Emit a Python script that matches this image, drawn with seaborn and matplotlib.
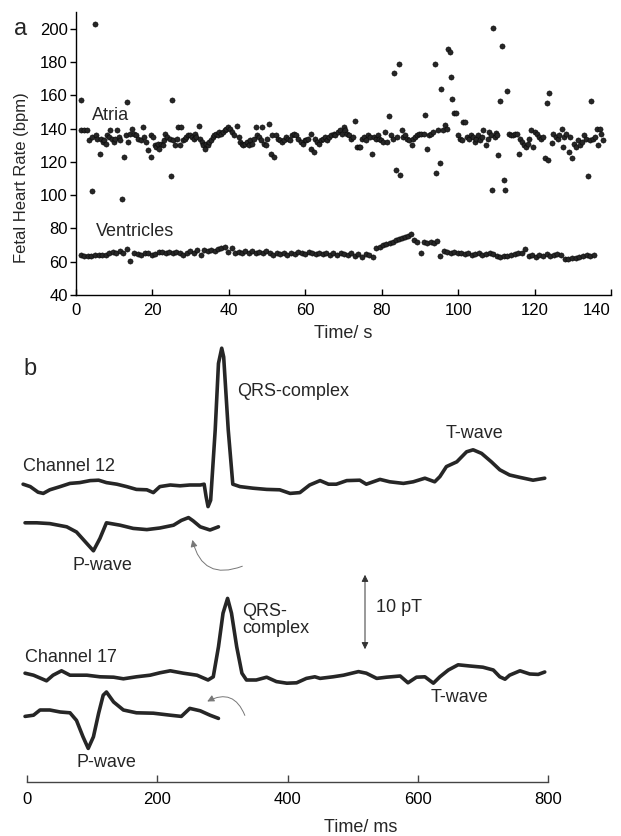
import numpy as np
import pandas as pd
import matplotlib
matplotlib.use("Agg")
import matplotlib.pyplot as plt
import seaborn as sns
from matplotlib.patches import FancyArrowPatch

# ---------------- DATA: panel a (fetal heart rate, beat by beat) ----------------
atria_t = [1.2, 1.3, 2.0, 2.8, 3.4, 4.2, 4.3, 5.0, 5.2, 5.6,
           6.2, 6.6, 7.0, 7.4, 7.8, 8.2, 8.6, 9.0, 9.4, 9.9, 10.3, 10.8, 11.2, 11.6,
           12.0, 12.6, 13.0, 13.3, 13.6, 14.2, 14.7,
           15.3, 15.8, 16.3, 16.9, 17.5, 17.9, 18.4, 18.9, 19.5, 19.7, 20.1,
           20.6, 21.0, 21.4, 21.8, 22.3, 22.7, 23.1, 23.4, 23.9, 24.5, 24.8, 25.0,
           25.5, 26.0, 26.4, 26.8, 27.2, 27.6, 28.0, 28.4, 28.9, 29.3, 29.8, 30.3, 30.8,
           31.2, 31.5, 32.2, 32.5, 32.9, 33.3, 33.7, 34.1, 34.5, 34.9, 35.3,
           35.8, 36.2, 36.7, 37.1, 37.5, 38.0, 38.4, 38.9, 39.3, 39.8, 40.3,
           40.8, 41.4, 42.2, 42.6, 43.0, 43.4, 43.8, 44.3, 44.7, 45.2, 45.6,
           46.1, 46.6, 47.0, 47.4, 47.8, 48.3, 48.8, 49.2, 49.7, 50.1, 50.5, 51.0, 51.4, 51.8,
           52.3, 52.8, 53.4, 53.9, 54.4, 54.9,
           55.4, 55.9, 56.5, 57.0, 57.6, 58.2, 58.8, 59.4, 59.9,
           60.3, 60.8, 61.4, 61.6, 62.3, 62.6, 63.0, 63.5, 64.0, 64.6,
           65.2, 65.7, 66.3, 66.8, 67.4, 67.9, 68.5, 69.1, 69.6, 70.0,
           70.4, 70.9, 71.4, 72.0, 72.5, 73.0, 73.5, 74.0, 74.4, 74.9,
           75.4, 75.9, 76.4, 76.9, 77.4, 77.9, 78.4, 78.9, 79.3, 79.8,
           80.3, 80.8, 81.3, 82.0, 82.5, 83.0, 83.2, 83.7, 84.1, 84.5, 84.9,
           85.3, 85.7, 86.2, 86.7, 87.2, 87.8, 88.3, 88.8, 89.3,
           89.8, 90.3, 91.0, 91.4, 91.8, 92.3, 92.8, 93.3, 94.0, 94.3, 94.6, 95.3, 95.6,
           96.1, 96.5, 97.0, 97.4, 97.8, 98.2, 98.5, 99.0, 99.4,
           100.0, 100.5, 101.0, 101.3, 101.8, 102.3, 102.8, 103.3, 103.8, 104.3, 104.8,
           105.3, 105.8, 106.2, 106.6, 107.3, 107.7, 108.0, 108.5, 108.9, 109.2, 109.6, 110.0, 110.2,
           110.5, 111.0, 111.5, 112.0, 112.3, 112.8, 113.3, 113.8, 114.3, 114.8,
           115.3, 115.8, 116.3, 116.8, 117.3, 117.8, 118.3, 118.6, 119.0, 119.7,
           120.2, 120.7, 121.2, 121.7, 122.2, 122.8, 123.3, 123.6, 123.8, 124.5, 124.9,
           125.5, 126.0, 126.5, 127.1, 127.4, 127.8, 128.3, 128.9, 129.3, 129.8,
           130.3, 130.8, 131.3, 131.8, 132.3, 132.9, 133.5, 134.1, 134.6, 134.8,
           135.2, 135.8, 136.4, 136.6, 137.0, 137.5, 137.8]

atria_bpm = [139, 157, 139, 139, 133, 102.6, 135, 203, 136, 134,
             125, 134, 132, 133, 131, 136, 135, 139, 134, 132, 134, 139, 135, 133,
             97.7, 123, 136, 156, 132, 137, 140,
             137, 136, 134, 133, 141, 135, 132, 127, 136, 123, 135,
             130, 129, 131, 128, 131, 130, 133, 137, 135, 134, 111.6, 157,
             133, 130, 134, 141, 130, 141, 133, 134, 135, 136, 136, 135, 134,
             137, 135, 141.6, 134, 132, 130, 128, 131, 130, 132, 133,
             135, 136, 137, 136, 138, 137, 138, 139, 140, 141, 140,
             138, 136, 141.6, 135, 132, 131, 130, 131, 132, 130, 133,
             131, 134, 141, 136, 135, 133, 141, 131, 130, 134, 142.5, 125, 136, 123,
             136, 134, 133, 132, 133, 135,
             134, 133, 136, 137, 136, 134, 132, 131, 133,
             133, 134, 137, 128, 126, 134, 132, 131, 133, 134,
             135, 133, 135, 136, 137, 136, 138, 139, 137, 141,
             139, 137, 136, 134, 135, 144.6, 129, 129, 129, 134,
             135, 133, 136, 135, 124.6, 135, 134, 136, 134, 133,
             132, 138, 132, 147.6, 136, 134, 173.6, 115, 135, 179, 112,
             139, 135, 136, 134, 133, 130, 134, 135, 136,
             137, 137, 137, 148, 127.6, 136, 137, 138, 179, 113, 139, 119, 164,
             139, 142, 140, 188, 186, 171, 158, 149.5, 149.5,
             136, 134, 133, 144, 144, 135, 134, 136, 135, 132, 134,
             136, 133, 135, 139, 130, 134, 138, 136, 103, 200.6, 135, 137.4, 136,
             124, 156.7, 189.8, 109, 103, 162.7, 137, 136, 136, 137,
             137, 125, 134, 132, 130, 129, 131, 134, 139, 129,
             138, 137, 135, 134, 135, 122.4, 155.6, 121, 161.5, 131.6, 137,
             135, 134, 136, 140, 129, 135, 137, 126, 135, 122,
             131, 129, 133, 130, 132, 136, 134, 111.5, 133, 156.7,
             134, 135, 140, 130, 140, 137, 133]

vent_start = 1.2
vent_bpm = [64, 63.5, 63.5, 63.7, 63.8, 64, 64, 64.3,
            65, 66, 65.5, 66.5, 65, 67.5,
            60.5,
            65, 64.5, 64, 65.5, 65, 64, 64.5,
            66, 66, 65.5, 66, 65.5, 66, 65,
            64, 65, 66.5, 65, 67, 64,
            67, 66.5, 67, 66.5, 67.5, 68, 69,
            66, 68.5,
            65, 66, 65.5, 66.5, 65, 66.5, 65.5, 66, 65.5, 66.5, 65.5,
            64, 65, 64.5, 65.5, 64, 65, 64.5, 66, 65,
            64.5, 66, 65, 64.5, 65.5, 64.5,
            65.5, 64, 65, 64, 65, 64.5,
            64, 65, 63.5, 64.5, 63, 64.5, 64, 63,
            68, 69, 70, 70.5, 71.5, 72, 73, 73.5, 74.5, 75, 75.5, 76.5,
            73, 72,
            65,
            72, 71.5, 72, 71.5, 72.5,
            63.7,
            66.5, 66, 65.5, 66, 65, 65.5, 64.5, 65,
            64, 64.5, 65, 64, 64.5, 65, 64.5,
            63.5, 63, 63.5, 63.5, 64, 64.5, 65, 65.5, 67.5,
            63.5, 64, 63, 64, 63.5, 64.5, 63.5, 64, 64.5, 64,
            61.5, 61.8, 62,
            62.5, 63, 63.5, 64, 63.5, 64]

# beat times from the RR intervals (60 / rate)
rr = 60.0 / np.array(vent_bpm)
vent_t = vent_start + np.concatenate([[0.0], np.cumsum(rr[:-1])])

# ---------------- DATA: panel b (magnetocardiogram traces, pT) ----------------
ch12_ms = [-6, 5, 17, 25, 35, 51, 66, 81, 97, 110, 122, 138, 153, 168, 184, 194, 204,
           220, 235, 250, 266, 272, 275, 278, 282, 289, 294, 299, 302, 309, 316, 327,
           347, 368, 388, 404, 419, 434, 450, 463, 475, 491, 511, 521, 542, 557, 578,
           593, 611, 626, 634, 644, 660, 675, 685, 698, 713, 726, 741, 757, 777, 795]
ch12_pT = [0.1, -0.2, -0.9, -1.05, -0.6, -0.2, 0.2, 0.3, 0.55, 0.6, 0.3, 0.1, -0.2, -0.55,
           -0.6, -0.95, -0.2, 0.0, -0.1, 0.0, 0.0, 0.1, -1.45, -2.7, -1.9, 6.9, 15.2, 17.1,
           16.0, 6.9, 0.1, -0.2, -0.4, -0.55, -0.6, -1.05, -0.95, 0.0, 0.55, 0.1, 0.1, 0.55,
           0.6, 0.1, 0.7, 0.4, 0.2, 0.4, 0.85, 0.4, 1.05, 2.3, 2.9, 4.15, 4.4, 3.95, 2.9,
           1.9, 1.25, 0.95, 0.6, 0.85]

ch12p_ms = [-3, 15, 35, 61, 76, 92, 102, 112, 122, 143, 163, 184, 204, 225, 237, 248,
            255, 266, 281, 294]
ch12p_pT = [0.3, 0.3, 0.2, -0.2, -0.85, -2.3, -3.2, -1.65, 0.3, 0.0, -0.4, -0.55, -0.35,
            0.0, 0.6, 0.95, 0.55, -0.2, -0.6, -0.2]

ch17_ms = [-3, 10, 30, 40, 53, 66, 92, 112, 133, 148, 168, 189, 204, 220, 240, 261, 278,
           286, 294, 301, 308, 314, 322, 330, 337, 352, 368, 383, 399, 414, 429, 442,
           450, 470, 486, 509, 521, 537, 552, 573, 585, 598, 611, 624, 634, 647, 662,
           680, 700, 716, 726, 734, 741, 757, 772, 785, 795]
ch17_pT = [0.35, 0.1, -0.6, 0.1, 0.65, 0.1, 0.1, -0.1, -0.15, -0.35, -0.1, 0.1, 0.4,
           0.65, 0.35, 0.1, -0.5, -0.1, 3.65, 7.85, 9.7, 7.85, 3.65, 0.35, -0.5, -0.5,
           -0.15, -0.7, -0.9, -0.85, -0.3, -0.1, -0.3, -0.1, 0.1, 0.55, 0.35, -0.3, -0.15,
           0.0, -0.85, -0.15, -0.1, -0.9, -0.1, 0.75, 1.4, 1.25, 1.1, 0.75, -0.1, -0.4,
           0.1, 0.65, 0.25, 0.2, 0.5]

ch17p_ms = [-3, 10, 20, 35, 51, 66, 76, 86, 94, 102, 110, 117, 122, 133, 148, 168, 194,
            220, 237, 250, 266, 281, 294]
ch17p_pT = [-0.4, -0.25, 0.4, 0.4, 0.15, 0.05, -0.9, -2.95, -4.4, -2.95, 0.0, 2.25, 2.65,
            1.4, 0.4, 0.05, 0.0, -0.25, -0.4, 0.6, 0.3, -0.25, -0.65]

a_xticks = [0, 20, 40, 60, 80, 100, 120, 140]
a_yticks = [40, 60, 80, 100, 120, 140, 160, 180, 200]
b_xticks = [0, 200, 400, 600, 800]

# ---------------- FIGURE ----------------
sns.set_theme(style="ticks")
plt.rcParams["font.family"] = ["Liberation Sans", "DejaVu Sans"]
FS = 12      # tick labels
FL = 13      # annotation labels

fig = plt.figure(figsize=(6.21, 8.36), dpi=100)
W, H = 621.0, 836.0
axa = fig.add_axes([76 / W, 1 - 295 / H, 535 / W, 283 / H])
axb = fig.add_axes([27 / W, 1 - 782 / H, 521 / W, 442 / H])

# ---- panel a ----
df_a = pd.DataFrame({"t": atria_t, "bpm": atria_bpm})
df_v = pd.DataFrame({"t": vent_t, "bpm": vent_bpm})
for df in (df_a, df_v):
    sns.scatterplot(data=df, x="t", y="bpm", ax=axa, s=14, color="#262626",
                    edgecolor="black", linewidth=0.35, legend=False, zorder=3)
axa.set_xlim(0, 140)
axa.set_ylim(40, 210)
axa.set_xticks(a_xticks)
axa.set_yticks(a_yticks)
axa.set_xlabel("")
axa.set_ylabel("")
for s in ("top", "right"):
    axa.spines[s].set_visible(False)
for s in ("left", "bottom"):
    axa.spines[s].set_linewidth(1.0)
    axa.spines[s].set_color("black")
axa.tick_params(axis="x", direction="in", length=4, width=1, pad=6, labelsize=FS,
                colors="black")
axa.tick_params(axis="y", direction="out", length=4, width=1, pad=2, labelsize=FS,
                colors="black")
fig.canvas.draw()
axa.get_xticklabels()[-1].set_horizontalalignment("right")
axa.text(4.2, 147.7, "Atria", fontsize=FL, ha="left", va="center")
axa.text(5.2, 77.9, "Ventricles", fontsize=FL, ha="left", va="center")

fig.text(22 / W, 1 - 178 / H, "Fetal Heart Rate (bpm)", rotation=90, ha="center",
         va="center", fontsize=FS)
fig.text(343 / W, 1 - 334 / H, "Time/ s", ha="center", va="center", fontsize=FL)
fig.text(14 / W, 1 - 35 / H, "a", ha="left", va="baseline", fontsize=17)

# ---- panel b ----
off12, off12p, off17, off17p = 37.125, 32.1, 13.25, 8.6
traces = [(ch12_ms, ch12_pT, off12), (ch12p_ms, ch12p_pT, off12p),
          (ch17_ms, ch17_pT, off17), (ch17p_ms, ch17p_pT, off17p)]
for ms, pt, off in traces:
    sns.lineplot(x=ms, y=np.array(pt) + off, ax=axb, sort=False, estimator=None,
                 color="#262626", lw=2.6, solid_joinstyle="round")
for ln in axb.lines:
    ln.set_clip_on(False)

axb.set_xlim(0, 800)
axb.set_ylim(0, 55.25)
axb.set_xticks(b_xticks)
axb.set_yticks([])
axb.set_xlabel("")
axb.set_ylabel("")
for s in ("top", "right", "left"):
    axb.spines[s].set_visible(False)
axb.spines["bottom"].set_color("#444444")
axb.spines["bottom"].set_linewidth(1.0)
axb.tick_params(axis="x", direction="in", length=5, width=1, pad=7, labelsize=FS,
                colors="#444444", labelcolor="black")

axb.text(322, 48.75, "QRS-complex", fontsize=FL, ha="left", va="center")
axb.text(643, 43.5, "T-wave", fontsize=FL, ha="left", va="center")
axb.text(-6, 39.4, "Channel 12", fontsize=FL, ha="left", va="center")
axb.text(70.6, 27.0, "P-wave", fontsize=FL, ha="left", va="center")
axb.text(535.7, 21.75, "10 pT", fontsize=FL, ha="left", va="center")
axb.text(330, 20.25, "QRS-\ncomplex", fontsize=FL, ha="left", va="center",
         linespacing=1.0)
axb.text(-3, 15.6, "Channel 17", fontsize=FL, ha="left", va="center")
axb.text(620, 10.5, "T-wave", fontsize=FL, ha="left", va="center")
axb.text(76.7, 2.4, "P-wave", fontsize=FL, ha="left", va="center")

arr1 = FancyArrowPatch((334.6, 27.1), (253, 30.6), connectionstyle="arc3,rad=-0.6",
                       arrowstyle="-|>,head_length=4,head_width=2", color="#777777",
                       lw=0.7, transform=axb.transData, clip_on=False)
arr2 = FancyArrowPatch((336, 8.0), (273, 9.9), connectionstyle="arc3,rad=0.6",
                       arrowstyle="-|>,head_length=4,head_width=2", color="#777777",
                       lw=0.7, transform=axb.transData, clip_on=False)
arr3 = FancyArrowPatch((519, 16.25), (519, 26.25), arrowstyle="<|-|>,head_length=4,head_width=2",
                       color="#333333", lw=0.7, transform=axb.transData, clip_on=False)
for a in (arr1, arr2, arr3):
    axb.add_patch(a)

fig.text(361 / W, 1 - 827 / H, "Time/ ms", ha="center", va="center", fontsize=FL)
fig.text(23 / W, 1 - 375 / H, "b", ha="left", va="baseline", fontsize=17)

fig.savefig("out.png", dpi=100)
